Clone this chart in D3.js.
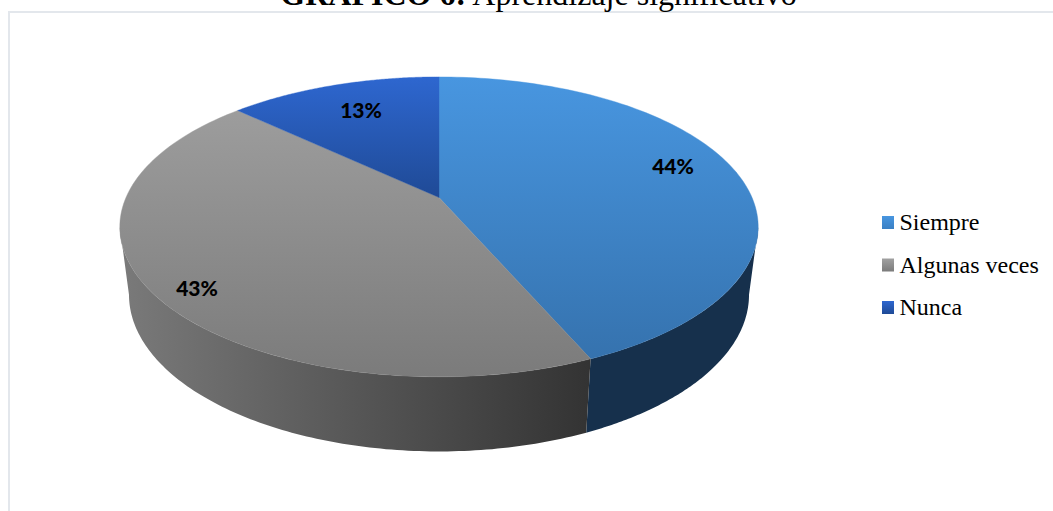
<!DOCTYPE html>
<html>
<head>
<meta charset="utf-8">
<script src="https://cdn.jsdelivr.net/npm/d3@7"></script>
<style>html,body{margin:0;padding:0;background:#fff;overflow:hidden}svg{display:block}</style>
</head>
<body>
<svg id="c" width="1053" height="511"></svg>
<script>
const categories = ["Siempre", "Algunas veces", "Nunca"];
const values = [43.5, 43.49, 13.01];
const topColors = [["#4896e0", "#3470ab"], ["#a1a1a1", "#7b7b7b"], ["#2e67d0", "#1f4a96"]];
const wallColors = [["#17324f", "#16304c"], ["#7a7a7a", "#333333"], ["#1f4a96", "#173a78"]];
const legendColors = [["#4896e0", "#3a80c4"], ["#a1a1a1", "#7b7b7b"], ["#2e67d0", "#1f4a96"]];
const labelAnchors = [[673, 166], [197, 288], [361, 110]];

const svg = d3.select("#c");
const defs = svg.append("defs");

// Perspective view of a disc: unit circle -> screen
const k = 0.196;
const topView = { cx: 439, cy: 197.5, a: 313, b: 144.2 };
const botView = { cx: 439, cy: 264, a: 304, b: 150.7 };
function project(view, t) {
  const u = Math.sin(t), v = Math.cos(t), w = 1 + k * v;
  return [view.cx + view.a * u / w, view.cy - view.b * v / w];
}
const pie = d3.pie().value(d => d).sort(null);
const arcs = pie(values);
const angles = (a0, a1) => d3.range(0, 121).map(i => a0 + (a1 - a0) * i / 120);
const line = d3.line();

// Only the front of the rim is visible, between the two silhouette angles
const frontStart = Math.acos(-k);
const frontEnd = 2 * Math.PI - frontStart;

function grad(id, colors, x1, y1, x2, y2) {
  const g = defs.append("linearGradient").attr("id", id)
    .attr("gradientUnits", "userSpaceOnUse")
    .attr("x1", x1).attr("y1", y1).attr("x2", x2).attr("y2", y2);
  g.append("stop").attr("offset", 0).attr("stop-color", colors[0]);
  g.append("stop").attr("offset", 1).attr("stop-color", colors[1]);
}
topColors.forEach((c, i) => {
  if (i === 2) grad("t" + i, c, 0, 76, 0, 197);
  else grad("t" + i, c, 0, 76, 0, 377);
});
wallColors.forEach((c, i) => grad("w" + i, c, 120, 0, 590, 0));
legendColors.forEach((c, i) => grad("l" + i, c, 0, 216 + i * 42.5, 0, 229 + i * 42.5));

// Frame
svg.append("path").attr("d", "M9 511V12H1053")
  .attr("fill", "none").attr("stroke", "#e3e7ec").attr("stroke-width", 2);

// Title
const title = svg.append("text").attr("x", 538.5).attr("y", 5).attr("text-anchor", "middle")
  .attr("font-family", "'Liberation Serif'").attr("font-size", 32).attr("fill", "#000");
title.append("tspan").attr("font-weight", "bold").text("GRÁFICO 6:");
title.append("tspan").text(" Aprendizaje significativo");

// Side walls
svg.append("g").selectAll("path").data(arcs).join("path")
  .attr("d", d => {
    const a0 = Math.max(d.startAngle, frontStart), a1 = Math.min(d.endAngle, frontEnd);
    if (a1 <= a0) return null;
    const as = angles(a0, a1);
    return line(as.map(t => project(topView, t)).concat(as.slice().reverse().map(t => project(botView, t)))) + "Z";
  })
  .attr("fill", (d, i) => `url(#w${i})`);

// Top face
svg.append("g").selectAll("path").data(arcs).join("path")
  .attr("d", d => line([[topView.cx, topView.cy]].concat(angles(d.startAngle, d.endAngle).map(t => project(topView, t)))) + "Z")
  .attr("fill", (d, i) => `url(#t${i})`)
  .attr("stroke", (d, i) => `url(#t${i})`).attr("stroke-width", 0.4);

// Data labels
svg.append("g").selectAll("text").data(arcs).join("text")
  .attr("x", (d, i) => labelAnchors[i][0]).attr("y", (d, i) => labelAnchors[i][1] + 7.5)
  .attr("text-anchor", "middle").attr("font-family", "Lato").attr("font-weight", "900")
  .attr("font-size", 21).attr("fill", "#000")
  .text(d => Math.round(d.data) + "%");

// Legend
const legendY = d3.scalePoint().domain(categories).range([222.5, 307.5]);
const lg = svg.append("g").selectAll("g").data(categories).join("g");
lg.append("rect").attr("x", 882).attr("y", d => legendY(d) - 6.5).attr("width", 12).attr("height", 13)
  .attr("fill", (d, i) => `url(#l${i})`);
lg.append("text").attr("x", 899.5).attr("y", d => legendY(d) + 7.5)
  .attr("font-family", "'Liberation Serif'").attr("font-size", 24).attr("fill", "#000").text(d => d);
</script>
</body>
</html>
